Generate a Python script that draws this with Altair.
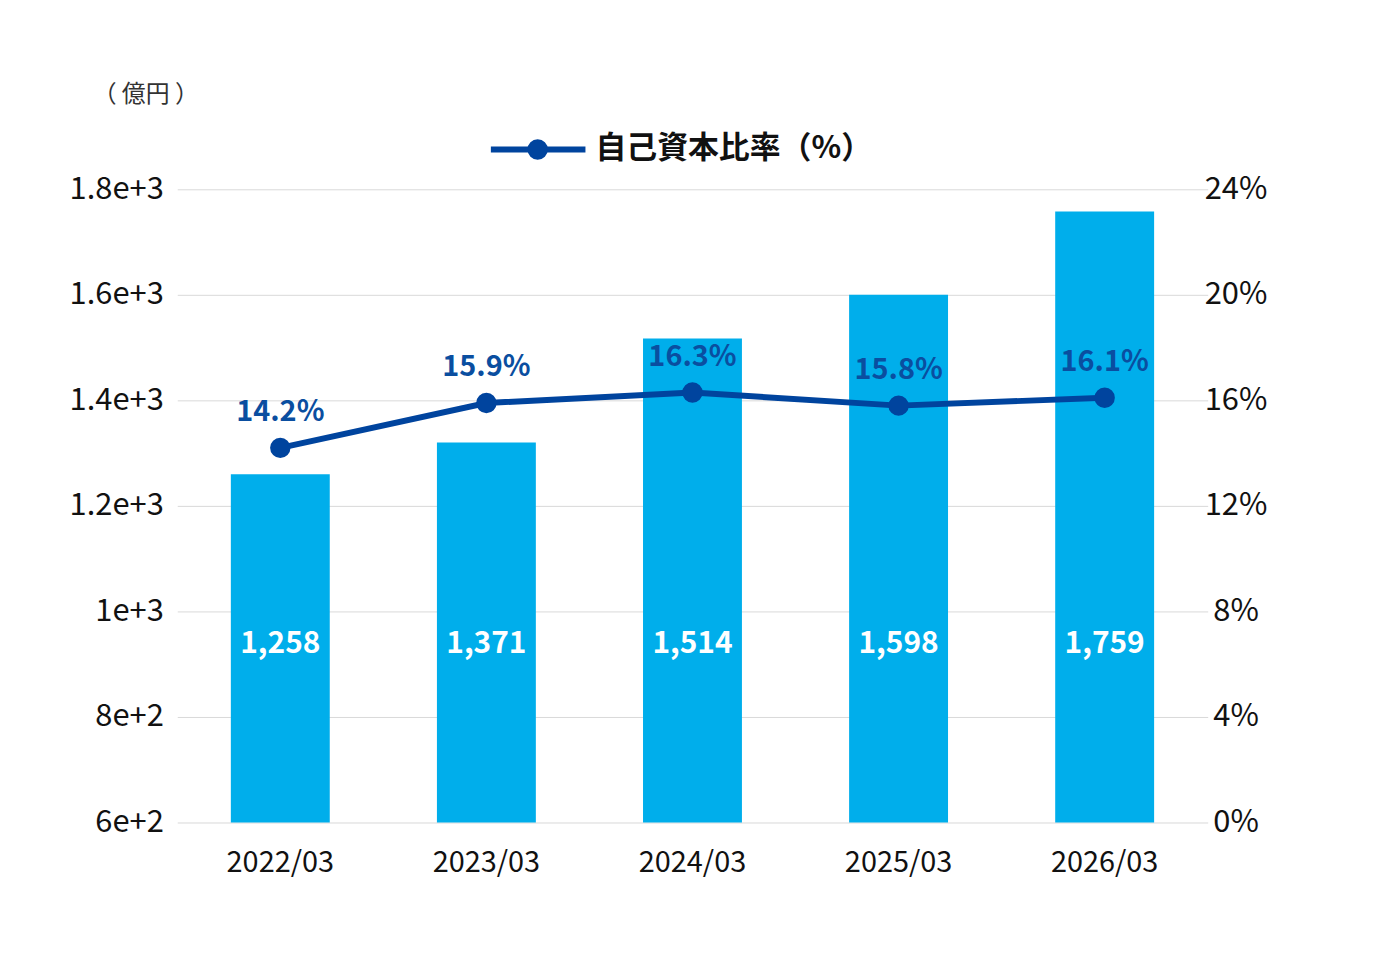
import altair as alt
import pandas as pd

years = ["2022/03", "2023/03", "2024/03", "2025/03", "2026/03"]
bar_values = [1260, 1320, 1517, 1600, 1758]
bar_labels = ["1,258", "1,371", "1,514", "1,598", "1,759"]
ratio = [14.2, 15.9, 16.3, 15.8, 16.1]
ratio_labels = ["14.2%", "15.9%", "16.3%", "15.8%", "16.1%"]

df = pd.DataFrame({"year": years, "amount": bar_values, "amount_label": bar_labels,
                   "ratio": ratio, "ratio_label": ratio_labels, "base": 600})

FONT = "Noto Sans CJK JP"
W, H = 1035, 636

x = alt.X("year:N", sort=years, title=None,
          scale=alt.Scale(paddingInner=0.52, paddingOuter=0.26),
          axis=alt.Axis(labelAngle=0, labelFontSize=29, labelColor="#111", labelPadding=26,
                        domain=False, ticks=False, labelFont=FONT))

base = alt.Chart(df)

yl = alt.Y("amount:Q", title=None,
           scale=alt.Scale(domain=[600, 1800], zero=False),
           axis=alt.Axis(values=[600, 800, 1000, 1200, 1400, 1600, 1800], format=",",
                         labelFontSize=31, labelColor="#111", labelPadding=14,
                         domain=False, ticks=False, gridColor="#d9d9d9", labelFont=FONT))

bars = base.mark_bar(color="#00aeeb").encode(x=x, y=yl, y2="base:Q")
bar_text = base.mark_text(color="white", fontSize=30, fontWeight="bold", font=FONT).encode(
    x=x, y=alt.value(457), text="amount_label:N")

yr = alt.Y("ratio:Q", title=None, scale=alt.Scale(domain=[0, 24]),
           axis=alt.Axis(orient="right", values=[0, 4, 8, 12, 16, 20, 24],
                         labelExpr="datum.value + '%'", labelFontSize=31, labelColor="#111",
                         labelPadding=28, labelAlign="center", domain=False, ticks=False,
                         grid=False, labelFont=FONT))

line = base.mark_line(color="#00449e", strokeWidth=6).encode(x=x, y=yr)
pts = base.mark_point(color="#00449e", filled=True, opacity=1, size=420).encode(x=x, y=yr)
ptxt = base.mark_text(color="#0a4ea0", fontSize=29, fontWeight="bold", dy=-36, font=FONT).encode(
    x=x, y=yr, text="ratio_label:N")

left = alt.layer(bars, bar_text)
right = alt.layer(line, pts, ptxt)

# legend and unit label
leg_line = alt.Chart(pd.DataFrame({"a": [0]})).mark_rule(color="#00449e", strokeWidth=6).encode(
    x=alt.value(315), x2=alt.value(410), y=alt.value(-40))
leg_pt = alt.Chart(pd.DataFrame({"a": [0]})).mark_point(
    color="#00449e", filled=True, opacity=1, size=420).encode(x=alt.value(362), y=alt.value(-40))
leg_txt = alt.Chart(pd.DataFrame({"t": ["自己資本比率（%）"]})).mark_text(
    fontSize=31, fontWeight="bold", align="left", color="#111", font=FONT).encode(
    x=alt.value(420), y=alt.value(-40), text="t:N")
unit = alt.Chart(pd.DataFrame({"t": ["（ 億円 ）"]})).mark_text(
    fontSize=24, align="left", color="#333", font=FONT).encode(
    x=alt.value(-85), y=alt.value(-95), text="t:N")

chart = alt.layer(left, right, leg_line, leg_pt, leg_txt, unit).resolve_scale(y="independent").properties(
    width=W, height=H, autosize=alt.AutoSizeParams(type="none"),
    padding={"left": 170, "top": 180, "right": 160, "bottom": 130}
).configure_view(stroke=None)

chart.save("out.html", embed_options={"renderer": "svg", "actions": False})
